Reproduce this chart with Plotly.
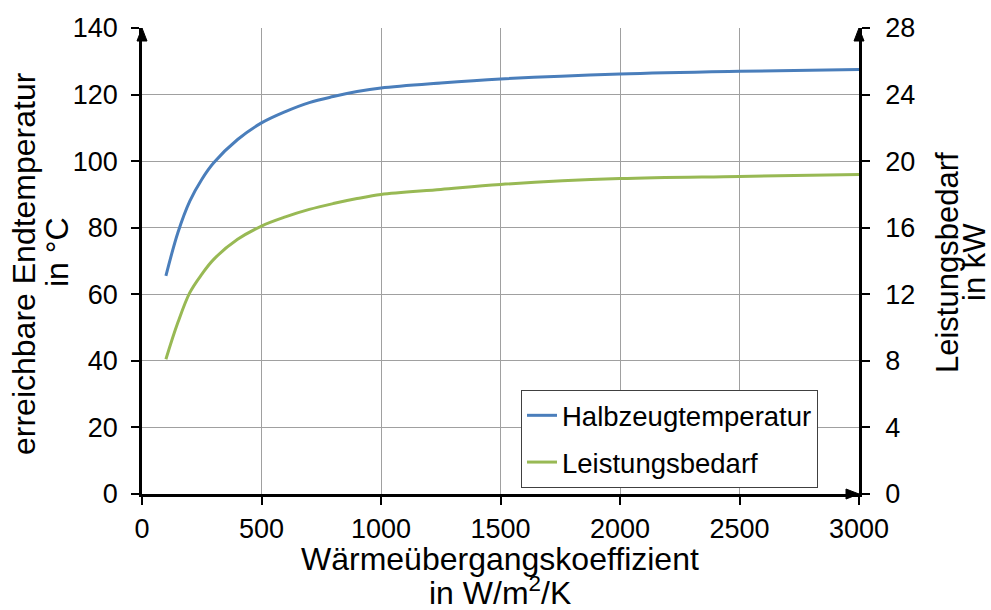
import plotly.graph_objects as go

# Wärmeübergangskoeffizient in W/m²/K
alpha = [100, 150, 200, 250, 300, 400, 500, 600, 700, 800, 900, 1000, 1250, 1500, 2000, 2500, 3000]
# erreichbare Endtemperatur des Halbzeugs in °C
temperatur = [65.5, 78.5, 88.0, 94.5, 99.5, 106.5, 111.5, 114.9, 117.6, 119.4, 120.9, 122.0, 123.5, 124.7, 126.2, 127.0, 127.5]
# Leistungsbedarf in kW
leistung = [8.1, 10.3, 12.1, 13.2, 14.1, 15.3, 16.1, 16.65, 17.1, 17.45, 17.75, 18.0, 18.3, 18.6, 18.95, 19.08, 19.2]

x_ticks = [0, 500, 1000, 1500, 2000, 2500, 3000]
y_ticks = [0, 20, 40, 60, 80, 100, 120, 140]
y2_ticks = [0, 4, 8, 12, 16, 20, 24, 28]

FONT = "Liberation Sans, Arial, sans-serif"
BLUE = "#4a7ebb"
GREEN = "#98b954"
GRID = "#a0a0a0"

fig = go.Figure()
fig.add_trace(go.Scatter(
    x=alpha, y=temperatur, name="Halbzeugtemperatur", mode="lines",
    line=dict(color=BLUE, width=3, shape="spline", smoothing=1.0),
    legendgroup="a",
))
fig.add_trace(go.Scatter(
    x=alpha, y=leistung, name="Leistungsbedarf", mode="lines", yaxis="y2",
    line=dict(color=GREEN, width=3, shape="spline", smoothing=1.0),
    legendgroup="b",
))

axis_common = dict(
    showline=True, linecolor="black", linewidth=2.5,
    ticks="outside", ticklen=8, tickwidth=1.5, tickcolor="black",
    tickfont=dict(family=FONT, size=27, color="black"),
    zeroline=False,
)

fig.update_layout(
    width=991, height=610,
    margin=dict(l=142, r=132, t=28, b=116),
    paper_bgcolor="white", plot_bgcolor="white",
    font=dict(family=FONT, color="black"),
    xaxis=dict(
        range=[0, 3000], tickvals=x_ticks, ticktext=[str(v) for v in x_ticks],
        showgrid=True, gridcolor=GRID, gridwidth=1, ticklabelstandoff=1,
        **axis_common,
    ),
    yaxis=dict(
        range=[0, 140], tickvals=y_ticks, ticktext=[str(v) for v in y_ticks],
        showgrid=True, gridcolor=GRID, gridwidth=1, ticklabelstandoff=8,
        **axis_common,
    ),
    yaxis2=dict(
        range=[0, 28], tickvals=y2_ticks, ticktext=[str(v) for v in y2_ticks],
        overlaying="y", side="right", showgrid=False, ticklabelstandoff=10,
        **axis_common,
    ),
    legend=dict(
        x=0.5286, y=0.013, xanchor="left", yanchor="bottom",
        bgcolor="white", bordercolor="#404040", borderwidth=1,
        font=dict(family=FONT, size=27.5, color="black"),
        tracegroupgap=8, itemwidth=30,
    ),
    showlegend=True,
)

# Achsentitel, zeilenweise gesetzt
def title_line(text, xpx, ypx, size, angle=0):
    return dict(text=text, textangle=angle,
                xref="paper", yref="paper",
                x=(xpx - 142) / 717, y=(494 - ypx) / 466,
                xanchor="center", yanchor="middle", showarrow=False,
                font=dict(family=FONT, size=size, color="black"))

annotations = [
    title_line("erreichbare Endtemperatur", 24, 264, 32, -90),
    title_line("in °C", 57, 252, 32, -90),
    title_line("Leistungsbedarf", 947, 263, 31, -90),
    title_line("in kW", 974, 262, 31, -90),
    title_line("Wärmeübergangskoeffizient", 500, 559, 32),
    title_line("in W/m<sup>2</sup>/K", 500, 591, 32),
]
fig.update_layout(annotations=annotations)

# Pfeilspitzen an den Achsenenden (Größe in Pixeln, relativ zum Ankerpunkt)
head_up = "M -5 -13 L 0 0 L 5 -13 Z"
head_right = "M -13 -5 L 0 0 L -13 5 Z"
for xa, ya, path in [(0, 1, head_up), (1, 1, head_up), (1, 0, head_right)]:
    fig.add_shape(type="path", xref="paper", yref="paper",
                  xsizemode="pixel", ysizemode="pixel",
                  xanchor=xa, yanchor=ya, path=path,
                  fillcolor="black", line=dict(color="black", width=1))

fig.write_html("out.html")
